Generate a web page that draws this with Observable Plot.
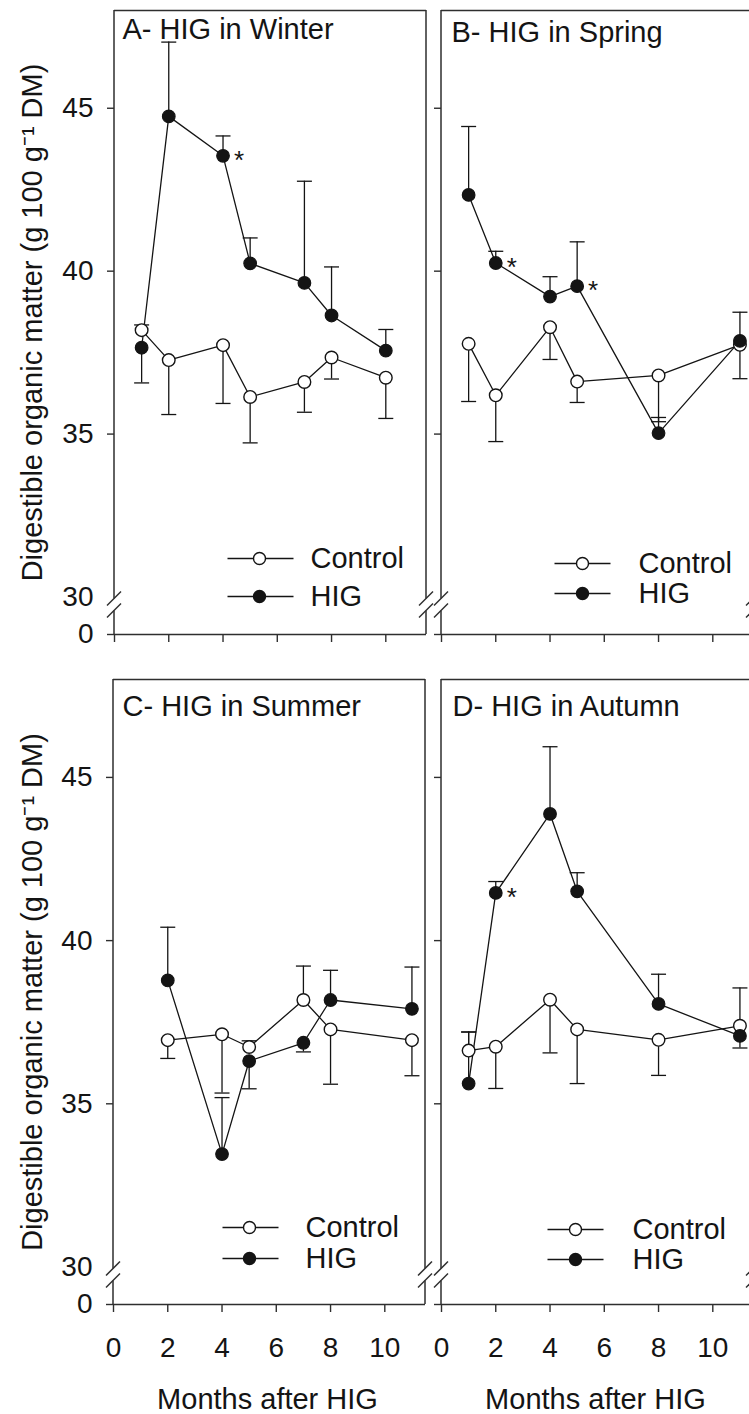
<!DOCTYPE html>
<html><head><meta charset="utf-8">
<script src="https://cdn.jsdelivr.net/npm/d3@7"></script>
<script src="https://cdn.jsdelivr.net/npm/@observablehq/plot@0.6"></script>
<style>
html,body{margin:0;padding:0;background:#fff;overflow:hidden}
#fig{position:relative;width:749px;height:1414px;overflow:hidden;background:#fff}
#fig > svg{position:absolute}
</style></head><body><div id="fig"></div>
<script>
// ---------- data ----------
const panelTitles = ["A- HIG in Winter", "B- HIG in Spring", "C- HIG in Summer", "D- HIG in Autumn"];
const seriesNames = ["Control", "HIG"];
const yLabel = "Digestible organic matter (g 100 g\u207B\u00B9 DM)";
const xLabel = "Months after HIG";
const xTicks = [0, 2, 4, 6, 8, 10];
const yTicks = [0, 35, 40, 45];
const yBreakTick = [30];

// Panel A - Winter
const monthsA = [1, 2, 4, 5, 7, 8, 10];
const controlA = [38.19, 37.27, 37.73, 36.14, 36.60, 37.35, 36.73];
const controlErrA = [0.16, -1.67, -1.79, -1.41, -0.93, -0.66, -1.25];
const higA = [37.65, 44.75, 43.54, 40.24, 39.64, 38.64, 37.56];
const higErrA = [-1.08, 2.28, 0.61, 0.78, 3.12, 1.49, 0.65];
const sigA = [4];

// Panel B - Spring
const monthsB = [1, 2, 4, 5, 8, 11];
const controlB = [37.77, 36.19, 38.28, 36.61, 36.80, 37.74];
const controlErrB = [-1.77, -1.42, -0.99, -0.64, -1.42, -1.04];
const higB = [42.34, 40.25, 39.22, 39.54, 35.03, 37.86];
const higErrB = [2.10, 0.36, 0.61, 1.36, 0.48, 0.88];
const sigB = [2, 5];

// Panel C - Summer
const monthsC = [2, 4, 5, 7, 8, 11];
const controlC = [36.95, 37.13, 36.74, 38.18, 37.28, 36.95];
const controlErrC = [-0.56, -1.80, 0.19, 1.04, -1.68, -1.09];
const higC = [38.78, 33.46, 36.31, 36.87, 38.18, 37.91];
const higErrC = [1.63, 1.73, -0.85, -0.28, 0.91, 1.28];
const sigC = [];

// Panel D - Autumn
const monthsD = [1, 2, 4, 5, 8, 11];
const controlD = [36.63, 36.75, 38.19, 37.28, 36.96, 37.39];
const controlErrD = [0.57, -1.28, -1.63, -1.66, -1.09, 1.16];
const higD = [35.62, 41.46, 43.88, 41.51, 38.06, 37.08];
const higErrD = [1.58, 0.35, 2.06, 0.57, 0.91, -0.37];
const sigD = [2];

// ---------- styling / layout ----------
const INK = "#141414";
const FRAME = "#2e2e2e";
const FONT = "'Liberation Sans', Arial, Helvetica, sans-serif";
const X_MAX = 11.5, Y_MAX = 48, Y_BREAK = 30, BREAK_PX = 37.5;

function buildRows(months, ctrl, ctrlErr, hig, higErr) {
  const out = [];
  months.forEach((m, i) => {
    out.push({series: "Control", month: m, value: ctrl[i], tip: ctrl[i] + ctrlErr[i]});
    out.push({series: "HIG", month: m, value: hig[i], tip: hig[i] + higErr[i]});
  });
  return out;
}

const panels = [
  {title: panelTitles[0], data: buildRows(monthsA, controlA, controlErrA, higA, higErrA), sig: sigA,
   left: 0, top: 0, width: 440, height: 660, ml: 114, mr: 14, mt: 10, mb: 26, showY: true, showX: false,
   tdx: 8, tdy: 8, legend: {rows: [-76, -38], lineDx: -166, half: 33, markDx: -167, textDx: -116}},
  {title: panelTitles[1], data: buildRows(monthsB, controlB, controlErrB, higB, higErrB), sig: sigB,
   left: 430, top: 0, width: 330, height: 660, ml: 11, mr: 7, mt: 10, mb: 26, showY: false, showX: false,
   tdx: 10, tdy: 11, legend: {rows: [-71, -41], lineDx: -171, half: 28, markDx: -171, textDx: -115}},
  {title: panelTitles[2], data: buildRows(monthsC, controlC, controlErrC, higC, higErrC), sig: sigC,
   left: 0, top: 669, width: 440, height: 745, ml: 113, mr: 15, mt: 10, mb: 110, showY: true, showX: true,
   tdx: 9, tdy: 16, legend: {rows: [-77, -46], lineDx: -175, half: 28, markDx: -176, textDx: -120}},
  {title: panelTitles[3], data: buildRows(monthsD, controlD, controlErrD, higD, higErrD), sig: sigD,
   left: 430, top: 669, width: 330, height: 745, ml: 11, mr: 7, mt: 10, mb: 110, showY: false, showX: true,
   tdx: 11, tdy: 16, legend: {rows: [-75, -45], lineDx: -178, half: 28, markDx: -178, textDx: -121}}
];

// horizontal line symbol (used for error-bar caps and legend lines)
const hline = {draw(ctx, size) { const h = Math.sqrt(size / Math.PI); ctx.moveTo(-h, 0); ctx.lineTo(h, 0); }};

// frame sides with axis break marks
function breakFrame(index, scales) {
  const {x, y} = scales;
  const g = d3.create("svg:g").attr("fill", "none").attr("stroke", FRAME).attr("stroke-width", 1.5);
  const y30 = y(Y_BREAK), yTop = y(Y_MAX), yBot = y(0);
  for (const xv of [0, X_MAX]) {
    const px = x(xv);
    g.append("line").attr("x1", px).attr("x2", px).attr("y1", yTop).attr("y2", y30 + 2);
    g.append("line").attr("x1", px).attr("x2", px).attr("y1", y30 + 14).attr("y2", yBot);
    for (const c of [y30 + 2, y30 + 14]) {
      g.append("line").attr("x1", px - 7).attr("y1", c + 7).attr("x2", px + 7).attr("y2", c - 7);
    }
  }
  return g.node();
}

const fig = document.getElementById("fig");

for (const P of panels) {
  const ctrl = P.data.filter(d => d.series === "Control");
  const hig = P.data.filter(d => d.series === "HIG");
  const sigRows = hig.filter(d => P.sig.includes(d.month));
  const bottom = P.height - P.mb;
  const L = P.legend;

  const marks = [
    Plot.ruleY([Y_MAX], {stroke: FRAME, strokeWidth: 1.5}),
    Plot.ruleY([0], {stroke: FRAME, strokeWidth: 1.5}),
    breakFrame,
    // connecting lines
    Plot.line(ctrl, {x: "month", y: "value", stroke: INK, strokeWidth: 1.3}),
    Plot.line(hig, {x: "month", y: "value", stroke: INK, strokeWidth: 1.3}),
    // error bars
    Plot.ruleX(P.data, {x: "month", y1: "value", y2: "tip", stroke: INK, strokeWidth: 1.3}),
    Plot.dot(P.data, {x: "month", y: "tip", r: 7.5, symbol: hline, stroke: INK, strokeWidth: 1.3, fill: "none"}),
    // markers
    Plot.dot(ctrl, {x: "month", y: "value", r: 6.3, fill: "white", stroke: INK, strokeWidth: 1.4}),
    Plot.dot(hig, {x: "month", y: "value", r: 6.3, fill: INK, stroke: INK, strokeWidth: 1.2}),
    // significance asterisks
    Plot.text(sigRows, {x: "month", y: "value", text: () => "*", dx: 16, dy: 5, fontSize: 26, fill: INK, lineAnchor: "middle"}),
    // panel title
    Plot.text([P.title], {frameAnchor: "top-left", dx: P.tdx, dy: P.tdy, text: d => d, textAnchor: "start", lineAnchor: "top", fontSize: 29, fill: INK}),
    // legend
    ...seriesNames.flatMap((s, i) => [
      Plot.dot([s], {frameAnchor: "bottom-right", dx: L.lineDx, dy: L.rows[i], r: L.half, symbol: hline, stroke: INK, strokeWidth: 1.3, fill: "none"}),
      Plot.dot([s], {frameAnchor: "bottom-right", dx: L.markDx, dy: L.rows[i], r: 6, fill: s === "HIG" ? INK : "white", stroke: INK, strokeWidth: 1.4}),
      Plot.text([s], {frameAnchor: "bottom-right", dx: L.textDx, dy: L.rows[i], text: d => d, textAnchor: "start", lineAnchor: "middle", fontSize: 29, fill: INK})
    ]),
    // axes (ticks)
    Plot.axisX({ticks: xTicks, tickSize: 8, label: null, stroke: FRAME, strokeWidth: 1.4, tickFormat: () => ""}),
    Plot.axisY({ticks: yTicks, tickSize: 7, tickPadding: 14, label: null, fontSize: 28, fill: INK, stroke: FRAME, strokeWidth: 1.4,
                tickFormat: P.showY ? (d => String(d)) : (() => "")})
  ];
  if (P.showY) {
    marks.push(Plot.axisY({ticks: yBreakTick, tickSize: 0, tickPadding: 21, label: null, fontSize: 28, fill: INK, tickFormat: d => String(d)}));
    marks.push(Plot.text([yLabel], {frameAnchor: "left", dx: 32 - P.ml, rotate: -90, text: d => d, textAnchor: "middle", lineAnchor: "middle", fontSize: 29, fill: INK}));
  }
  if (P.showX) {
    // x tick labels
    marks.push(Plot.text(xTicks, {x: d => d, frameAnchor: "bottom", dy: 44, text: d => String(d), textAnchor: "middle", lineAnchor: "middle", fontSize: 28, fill: INK}));
    marks.push(Plot.text([xLabel], {frameAnchor: "bottom", dx: -2, dy: 95, text: d => d, textAnchor: "middle", lineAnchor: "middle", fontSize: 29, fill: INK}));
  }

  const svg = Plot.plot({
    width: P.width, height: P.height,
    marginLeft: P.ml, marginRight: P.mr, marginTop: P.mt, marginBottom: P.mb,
    x: {domain: [0, X_MAX], label: null},
    y: {type: "linear", domain: [0, Y_BREAK, Y_MAX], range: [bottom, bottom - BREAK_PX, P.mt], label: null},
    style: {fontFamily: FONT, fontSize: "28px", color: INK, background: "transparent", overflow: "visible", maxWidth: "none"},
    marks
  });
  svg.style.left = P.left + "px";
  svg.style.top = P.top + "px";
  fig.appendChild(svg);
}
</script></body></html>
